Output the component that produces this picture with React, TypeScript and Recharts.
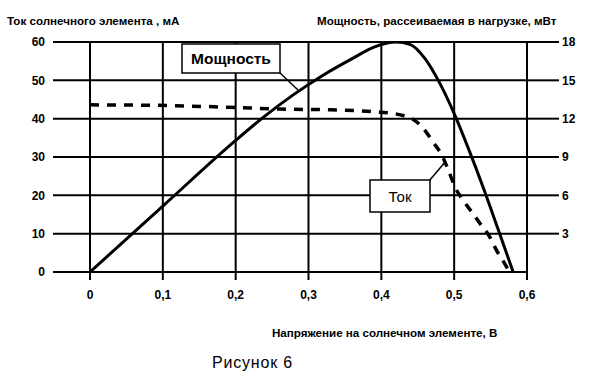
import React from "react";
import { ComposedChart, Line, XAxis, YAxis, CartesianGrid } from "recharts";

// Power curve: voltage (V) -> power (mW)
const powerVoltage = [0, 0.1, 0.2, 0.24, 0.28, 0.32, 0.36, 0.39, 0.42, 0.44, 0.46, 0.48, 0.5, 0.52, 0.54, 0.56, 0.581];
const powerMW = [0, 5.16, 10.3, 12.2, 13.9, 15.4, 16.7, 17.6, 18.0, 17.8, 16.7, 14.8, 12.4, 9.6, 6.6, 3.4, 0];

// Current curve: voltage (V) -> current (mA)
const currentVoltage = [0, 0.082, 0.188, 0.261, 0.33, 0.398, 0.426, 0.443, 0.457, 0.471, 0.483, 0.492, 0.501, 0.512, 0.524, 0.535, 0.549, 0.558, 0.569, 0.576];
const currentMA = [43.6, 43.5, 43.0, 42.5, 42.3, 41.7, 41.0, 39.9, 37.6, 33.9, 30.5, 26.6, 22.2, 18.8, 15.7, 12.8, 9.1, 5.7, 2.3, 0];

const voltageTicks = [0, 0.1, 0.2, 0.3, 0.4, 0.5, 0.6];
const currentTicks = [0, 10, 20, 30, 40, 50, 60];
const powerTicks = [3, 6, 9, 12, 15, 18];

const powerData = powerVoltage.map((v, i) => ({ v, p: powerMW[i] }));
const currentData = currentVoltage.map((v, i) => ({ v, c: currentMA[i] }));

const FONT = "'Liberation Sans', Arial, sans-serif";
const tickStyle = { fill: "#000", fontSize: 12, fontWeight: 700, fontFamily: FONT };

const fmtV = (v: number) => (v === 0 ? "0" : v.toFixed(1).replace(".", ","));

export default function App() {
  return (
    <div style={{ position: "absolute", left: 0, top: 0, width: 591, height: 384, background: "#fff" }}>
      <ComposedChart
        width={591}
        height={384}
        margin={{ top: 42, right: 0, bottom: 82, left: 0 }}
        style={{ position: "absolute", left: 0, top: 0 }}
      >
        <CartesianGrid yAxisId="i" stroke="#000" strokeWidth={2} />
        <XAxis
          dataKey="v"
          type="number"
          domain={[0, 0.6]}
          ticks={voltageTicks}
          interval={0}
          allowDataOverflow
          tickFormatter={fmtV}
          height={30}
          tickSize={8}
          tickMargin={10}
          axisLine={{ stroke: "#000", strokeWidth: 2 }}
          tickLine={{ stroke: "#000", strokeWidth: 2 }}
          tick={tickStyle}
        />
        <YAxis
          yAxisId="i"
          domain={[0, 60]}
          ticks={currentTicks}
          interval={0}
          allowDataOverflow
          width={90}
          tickSize={37}
          tickMargin={8}
          axisLine={{ stroke: "#000", strokeWidth: 2 }}
          tickLine={{ stroke: "#000", strokeWidth: 2 }}
          tick={tickStyle}
        />
        <YAxis
          yAxisId="p"
          orientation="right"
          domain={[0, 18]}
          ticks={powerTicks}
          interval={0}
          allowDataOverflow
          width={64}
          tickSize={32}
          tickMargin={3}
          axisLine={{ stroke: "#000", strokeWidth: 2 }}
          tickLine={{ stroke: "#000", strokeWidth: 2 }}
          tick={tickStyle}
        />
        <Line
          yAxisId="i"
          data={currentData}
          dataKey="c"
          type="monotone"
          stroke="#000"
          strokeWidth={3.5}
          strokeDasharray="9 8"
          dot={false}
          isAnimationActive={false}
        />
        <Line
          yAxisId="p"
          data={powerData}
          dataKey="p"
          type="monotone"
          stroke="#000"
          strokeWidth={3}
          dot={false}
          isAnimationActive={false}
        />
      </ComposedChart>
      <svg width={591} height={384} style={{ position: "absolute", left: 0, top: 0, pointerEvents: "none" }}>
        <g fontFamily={FONT} fill="#000">
          <text x={7} y={25} fontSize={11.6} fontWeight={700}>Ток солнечного элемента , мА</text>
          <text x={317} y={25} fontSize={11.6} fontWeight={700}>Мощность, рассеиваемая в нагрузке, мВт</text>
          <text x={272} y={337} fontSize={11.6} fontWeight={700}>Напряжение на солнечном элементе, В</text>
          <text x={212} y={368} fontSize={16} letterSpacing={0.8}>Рисунок 6</text>
        </g>
        <line x1={279} y1={72} x2={298} y2={90} stroke="#000" strokeWidth={1.5} />
        <rect x={182} y={44} width={98} height={29} fill="#fff" stroke="#000" strokeWidth={1.5} />
        <text x={231} y={64} textAnchor="middle" fontFamily={FONT} fontSize={15.5} fontWeight={700} fill="#000">Мощность</text>
        <line x1={429} y1={181} x2={446} y2={161} stroke="#000" strokeWidth={1.5} />
        <rect x={370} y={180} width={60} height={32} fill="#fff" stroke="#000" strokeWidth={1.5} />
        <text x={400} y={202} textAnchor="middle" fontFamily={FONT} fontSize={15} fill="#000">Ток</text>
      </svg>
    </div>
  );
}
